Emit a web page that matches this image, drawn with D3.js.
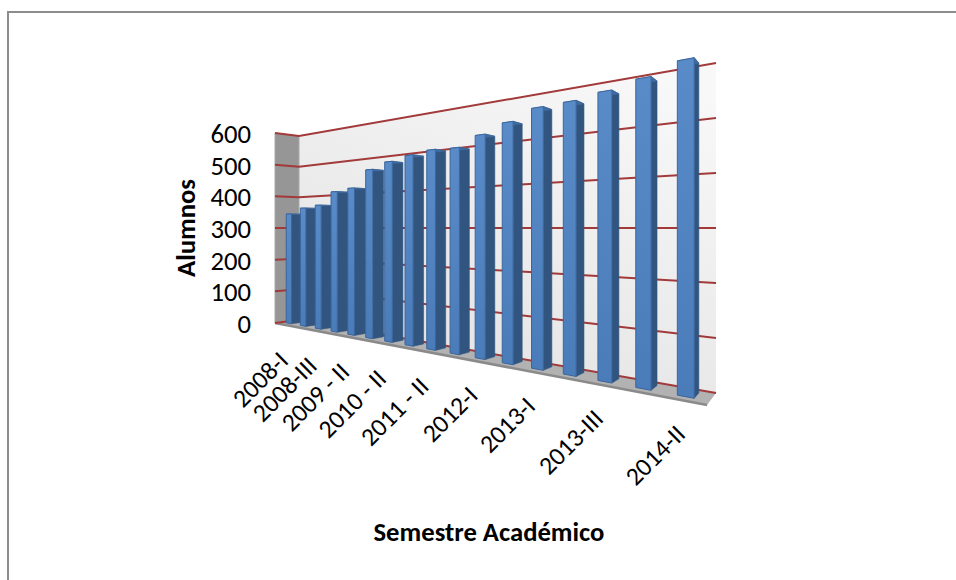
<!DOCTYPE html>
<html><head><meta charset="utf-8">
<script src="https://cdnjs.cloudflare.com/ajax/libs/d3/7.8.5/d3.min.js"></script>
<style>html,body{margin:0;padding:0;background:#fff}svg{display:block}</style></head><body>
<svg id="c" width="956" height="580"></svg>
<script>
const categories=["2008-I","2008-II","2008-III","2009-I","2009 - II","2010-I","2010 - II","2011-I","2011 - II","2011-III","2012-I","2012-II","2013-I","2013-II","2013-III","2014-I","2014-II"];
const labelled=["2008-I","2008-III","2009 - II","2010 - II","2011 - II","2012-I","2013-I","2013-III","2014-II"];
const alumnos=[344,361,368,405,412,459,475,486,493,491,514,534,556,558,567,580,600];
const yTicks=[0,100,200,300,400,500,600];
const font="Carlito, Lato, sans-serif";

const svg=d3.select("#c");
const defs=svg.append("defs");
const g1=defs.append("linearGradient").attr("id","wall").attr("gradientUnits","userSpaceOnUse").attr("x1",620).attr("y1",60).attr("x2",480).attr("y2",390);
g1.append("stop").attr("offset",0).attr("stop-color","#f8f8f8");
g1.append("stop").attr("offset",1).attr("stop-color","#e4e4e4");
const g2=defs.append("linearGradient").attr("id","front").attr("x1",0).attr("y1",0).attr("x2",0).attr("y2",1);
g2.append("stop").attr("offset",0).attr("stop-color","#5a8bc9");
g2.append("stop").attr("offset",1).attr("stop-color","#4a7cba");

const C={a:[299,320],b:[716,393],c:[275,323],d:[707,405]};
const horizon=228;
function solveH(){
  const [x0,y0]=C.a,[x1,y1]=C.b,[x3,y3]=C.c,[x2,y2]=C.d;
  const dx1=x1-x2,dx2=x3-x2,sx=x0-x1+x2-x3,dy1=y1-y2,dy2=y3-y2,sy=y0-y1+y2-y3;
  const den=dx1*dy2-dx2*dy1;
  const g=(sx*dy2-dx2*sy)/den,h=(dx1*sy-sx*dy1)/den;
  return {a:x1-x0+g*x1,b:x3-x0+h*x3,c:x0,d:y1-y0+g*y1,e:y3-y0+h*y3,f:y0,g,h};
}
const H=solveH();
const uScale=d3.scaleBand().domain(categories).range([0,1]);
const vScale=d3.scaleLinear().domain([0,600]).range([1,-1]);
function P(u,v,w){
  const q=H.g*u+H.h*w+1;
  const x=(H.a*u+H.b*w+H.c)/q, yf=(H.d*u+H.e*w+H.f)/q;
  return [x,horizon+(yf-horizon)*vScale(v)];
}
const line=d3.line();
const poly=pts=>line(pts)+"Z";

svg.append("path").attr("d","M8,580V12H956").attr("fill","none").attr("stroke","#8c8c8c").attr("stroke-width",2);

svg.append("path").attr("d",poly([P(0,0,0),P(1,0,0),P(1,600,0),P(0,600,0)])).attr("fill","url(#wall)");
svg.append("path").attr("d",poly([P(0,0,1),P(0,0,0),P(0,600,0),P(0,600,1)])).attr("fill","#969696").attr("stroke","#a8a8a8").attr("stroke-width",1);
svg.append("path").attr("d",poly([P(0,0,0),P(1,0,0),P(1,0,1),P(0,0,1)])).attr("fill","#b2b2b2");
svg.append("path").attr("d",line([P(0,0,1),P(1,0,1)])).attr("fill","none").attr("stroke","#8a8a8a").attr("stroke-width",2.5);

yTicks.forEach(t=>{
  svg.append("path").attr("d",line([P(0,t,1),P(0,t,0),P(1,t,0)])).attr("fill","none").attr("stroke","#a23a3a").attr("stroke-width",2);
});

const wFront=0.7,wBack=0.24,fill=0.38,off=0.28;
const bars=svg.append("g").selectAll("g").data(alumnos).join("g");
alumnos.forEach((v,i)=>{
  const c=categories[i];
  const u0=uScale(c)+uScale.bandwidth()*off,u1=u0+uScale.bandwidth()*fill;
  const g=d3.select(bars.nodes()[i]);
  g.append("path").attr("d",poly([P(u1,0,wFront),P(u1,0,wBack),P(u1,v,wBack),P(u1,v,wFront)])).attr("fill","#31557f").attr("stroke","#31557f").attr("stroke-width",.6);
  g.append("path").attr("d",poly([P(u0,v,wFront),P(u1,v,wFront),P(u1,v,wBack),P(u0,v,wBack)])).attr("fill","#3f6ba3").attr("stroke","#3f6ba3").attr("stroke-width",.6);
  g.append("path").attr("d",poly([P(u0,0,wFront),P(u1,0,wFront),P(u1,v,wFront),P(u0,v,wFront)])).attr("fill","url(#front)").attr("stroke","#3b659c").attr("stroke-width",1);
});

yTicks.forEach(t=>{
  svg.append("text").attr("x",251).attr("y",P(0,t,1)[1]+10).attr("text-anchor","end").attr("font-family",font).attr("font-size",26.67).attr("fill","#000").text(t);
});
labelled.forEach(l=>{
  const u=uScale(l)+uScale.bandwidth()/2;
  const p=P(u,0,1);
  svg.append("text").attr("transform",`translate(${p[0]+8-5*u},${p[1]+38-3*u}) rotate(-45)`).attr("text-anchor","end").attr("font-family",font).attr("font-size",25.5).attr("fill","#000").text(l);
});
svg.append("text").attr("transform","translate(195,228) rotate(-90)").attr("text-anchor","middle").attr("font-family",font).attr("font-size",26.67).attr("font-weight","bold").text("Alumnos");
svg.append("text").attr("x",489).attr("y",541).attr("text-anchor","middle").attr("font-family",font).attr("font-size",26.67).attr("font-weight","bold").text("Semestre Académico");
</script></body></html>
